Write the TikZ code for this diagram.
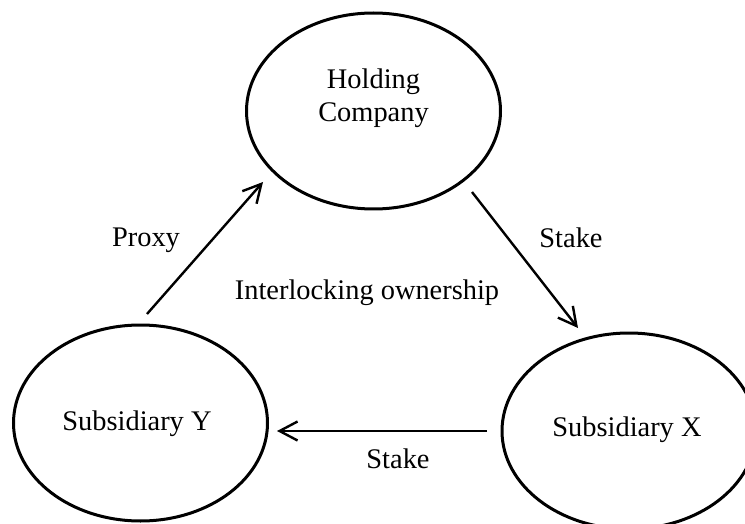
\documentclass[tikz,border=0pt]{standalone}
\usepackage{fontspec}
\setmainfont{Liberation Serif}
\usetikzlibrary{shapes.geometric,arrows.meta}
\begin{document}
\begin{tikzpicture}[x=0.5pt,y=-0.5pt,
  ent/.style={ellipse,draw,line width=1.5pt,minimum width=127pt,minimum height=98pt,inner sep=0pt},
  txt/.style={font=\fontsize{14.2}{16.5}\selectfont,align=center,inner sep=0pt},
  conn/.style={line width=1.2pt,-{Straight Barb[length=9pt,width=9.5pt,line width=1.2pt]}}]
\useasboundingbox (0,0) rectangle (745,524);
\clip (0,0) rectangle (745,524);
\node[ent] (hc) at (373.5,111) {};
\node[ent] (sy) at (140.5,423) {};
\node[ent] (sx) at (629,431) {};
\node[txt] (hct) at (373.5,98) {Holding\\Company};
\node[txt] (syt) at (137,424) {Subsidiary Y};
\node[txt] (sxt) at (627,430) {Subsidiary X};
\coordinate (p1) at (147,314);
\coordinate (p2) at (263,182);
\coordinate (s1) at (472,192);
\coordinate (s2) at (578,328);
\coordinate (b1) at (487,431);
\coordinate (b2) at (277,431);
\draw[conn] (p1) -- (p2);
\draw[conn] (s1) -- (s2);
\draw[conn] (b1) -- (b2);
\node[txt] (lproxy) at (146,240) {Proxy};
\node[txt] (lstake1) at (571,238) {Stake};
\node[txt] (lstake2) at (398,459) {Stake};
\node[txt] (linter) at (367,293) {Interlocking ownership};
\end{tikzpicture}
\end{document}
